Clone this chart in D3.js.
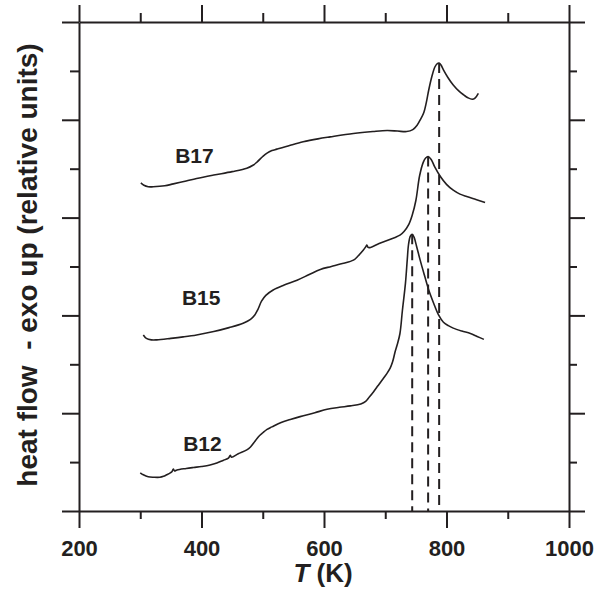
<!DOCTYPE html>
<html>
<head>
<meta charset="utf-8">
<script src="https://cdn.jsdelivr.net/npm/d3@7"></script>
<style>
  html, body { margin: 0; padding: 0; background: #fff; }
  svg { display: block; }
  text { font-family: "Liberation Sans", Arial, sans-serif; font-weight: bold; fill: #231f20; }
</style>
</head>
<body>
<svg id="chart" width="600" height="593"></svg>
<script>
// DSC traces: [temperature (K), heat flow (relative units)]
const b12 = [
  [300,0.78],[305,0.74],[313,0.70],[322,0.69],[332,0.69],[338,0.71],[343,0.74],[349,0.78],
  [352,0.81],[354,0.86],[356,0.82],[360,0.84],[375,0.87],[387,0.89],[400,0.91],[414,0.94],
  [425,0.98],[436,1.04],[444,1.08],[447,1.14],[449,1.10],[460,1.17],[474,1.25],[480,1.31],
  [487,1.42],[493,1.52],[500,1.60],[507,1.67],[515,1.72],[530,1.81],[545,1.87],[561,1.93],
  [585,2.01],[605,2.08],[625,2.12],[643,2.15],[660,2.19],[668,2.24],[674,2.33],[681,2.44],
  [688,2.56],[695,2.68],[702,2.80],[708,2.92],[712,3.05],[716,3.25],[720,3.42],[724,3.63],
  [728,4.10],[733,4.66],[736,5.15],[738,5.45],[741,5.62],[744,5.66],[747,5.60],[751,5.42],
  [757,5.13],[764,4.82],[771,4.52],[779,4.25],[787,4.01],[795,3.86],[803,3.79],[811,3.74],
  [825,3.68],[839,3.63],[850,3.57],[861,3.51]
];
const b15 = [
  [305,3.60],[310,3.53],[318,3.50],[327,3.50],[350,3.53],[370,3.56],[392,3.60],[420,3.67],
  [445,3.75],[468,3.84],[480,3.92],[487,4.01],[492,4.12],[498,4.29],[505,4.41],[517,4.52],
  [535,4.62],[556,4.72],[575,4.83],[594,4.94],[612,5.00],[630,5.06],[648,5.13],[656,5.22],
  [664,5.33],[668,5.40],[670,5.44],[672,5.39],[676,5.39],[690,5.47],[703,5.53],[715,5.59],
  [724,5.64],[731,5.72],[738,5.85],[744,6.05],[750,6.35],[756,6.85],[762,7.13],[766,7.22],
  [770,7.25],[775,7.19],[781,7.03],[790,6.84],[800,6.68],[811,6.56],[822,6.48],[833,6.43],
  [848,6.37],[863,6.31]
];
const b17 = [
  [301,6.71],[306,6.66],[313,6.63],[321,6.63],[340,6.65],[354,6.69],[375,6.75],[392,6.80],
  [420,6.87],[450,6.94],[474,7.01],[484,7.07],[491,7.14],[500,7.25],[507,7.32],[515,7.37],
  [523,7.40],[545,7.48],[566,7.55],[590,7.61],[610,7.65],[648,7.72],[680,7.76],[703,7.78],
  [720,7.77],[735,7.76],[745,7.80],[752,7.89],[758,8.02],[763,8.15],[767,8.35],[771,8.61],
  [776,8.88],[781,9.08],[785,9.15],[788,9.16],[791,9.12],[795,9.02],[802,8.87],[811,8.71],
  [820,8.59],[828,8.51],[835,8.45],[842,8.42],[847,8.45],[852,8.54]
];
const seriesNames = ["B12", "B15", "B17"];
const seriesData = [b12, b15, b17];
// where each sample name sits, in data units [T, heat flow]
const labelAt = [[370, 1.23], [368, 4.21], [357, 7.11]];

const tempMajor = [200, 400, 600, 800, 1000];
const tempMinor = [300, 500, 700, 900];
const flowMajor = [0, 2, 4, 6, 8, 10];
const flowMinor = [1, 3, 5, 7, 9];

const ink = "#231f20";
const svg = d3.select("#chart");
const x = d3.scaleLinear().domain([200, 1000]).range([79, 569]);
const y = d3.scaleLinear().domain([0, 10]).range([511, 22]);

function styleAxis(g) {
  g.selectAll("path.domain").attr("stroke", ink).attr("stroke-width", 2);
  g.selectAll(".tick line").attr("stroke", ink).attr("stroke-width", 2);
  g.selectAll(".tick text").attr("font-size", 22).attr("fill", ink)
    .attr("font-family", '"Liberation Sans", Arial, sans-serif').attr("font-weight", "bold");
}

// frame: each side gets long major and short minor ticks pointing outward
function side(axisFn, pos, transform, majorVals, minorVals, majorLen, minorLen, labels) {
  const gMaj = svg.append("g").attr("transform", transform)
    .call(axisFn(pos).tickValues(majorVals).tickSize(majorLen).tickSizeOuter(0)
      .tickPadding(12).tickFormat(labels ? d3.format("d") : () => ""));
  styleAxis(gMaj);
  const gMin = svg.append("g").attr("transform", transform)
    .call(axisFn(pos).tickValues(minorVals).tickSize(minorLen).tickSizeOuter(0).tickFormat(() => ""));
  gMin.select("path.domain").remove();
  styleAxis(gMin);
}
side(d3.axisBottom, x, "translate(0,511)", tempMajor, tempMinor, 17, 8, true);
side(d3.axisTop, x, "translate(0,22)", tempMajor, tempMinor, 17, 9, false);
side(d3.axisLeft, y, "translate(79,0)", flowMajor, flowMinor, 17, 9, false);
side(d3.axisRight, y, "translate(569,0)", flowMajor, flowMinor, 16, 8, false);

// peak markers: dashed verticals from each exotherm maximum down to the T axis
seriesData.forEach(s => {
  const peak = s.reduce((a, b) => (b[1] > a[1] ? b : a));
  svg.append("line")
    .attr("x1", x(peak[0])).attr("x2", x(peak[0]))
    .attr("y1", y(peak[1])).attr("y2", y(0))
    .attr("stroke", ink).attr("stroke-width", 2)
    .attr("stroke-dasharray", "10,6");
});

// traces
const line = d3.line()
  .x(d => x(d[0])).y(d => y(d[1]))
  .curve(d3.curveCatmullRom.alpha(0.5));
seriesData.forEach(s => {
  svg.append("path").attr("d", line(s))
    .attr("fill", "none").attr("stroke", ink)
    .attr("stroke-width", 1.6).attr("stroke-linejoin", "round");
});

// sample names
seriesNames.forEach((name, i) => {
  svg.append("text")
    .attr("x", x(labelAt[i][0])).attr("y", y(labelAt[i][1]))
    .attr("font-size", 21).text(name);
});

// axis titles
const xt = svg.append("text")
  .attr("x", 323).attr("y", 582).attr("text-anchor", "middle").attr("font-size", 26);
xt.append("tspan").attr("font-style", "italic").text("T");
xt.append("tspan").text(" (K)");

svg.append("text")
  .attr("transform", "translate(37,265) rotate(-90)")
  .attr("text-anchor", "middle").attr("font-size", 28)
  .style("white-space", "pre")
  .text("heat flow  - exo up (relative units)");
</script>
</body>
</html>
